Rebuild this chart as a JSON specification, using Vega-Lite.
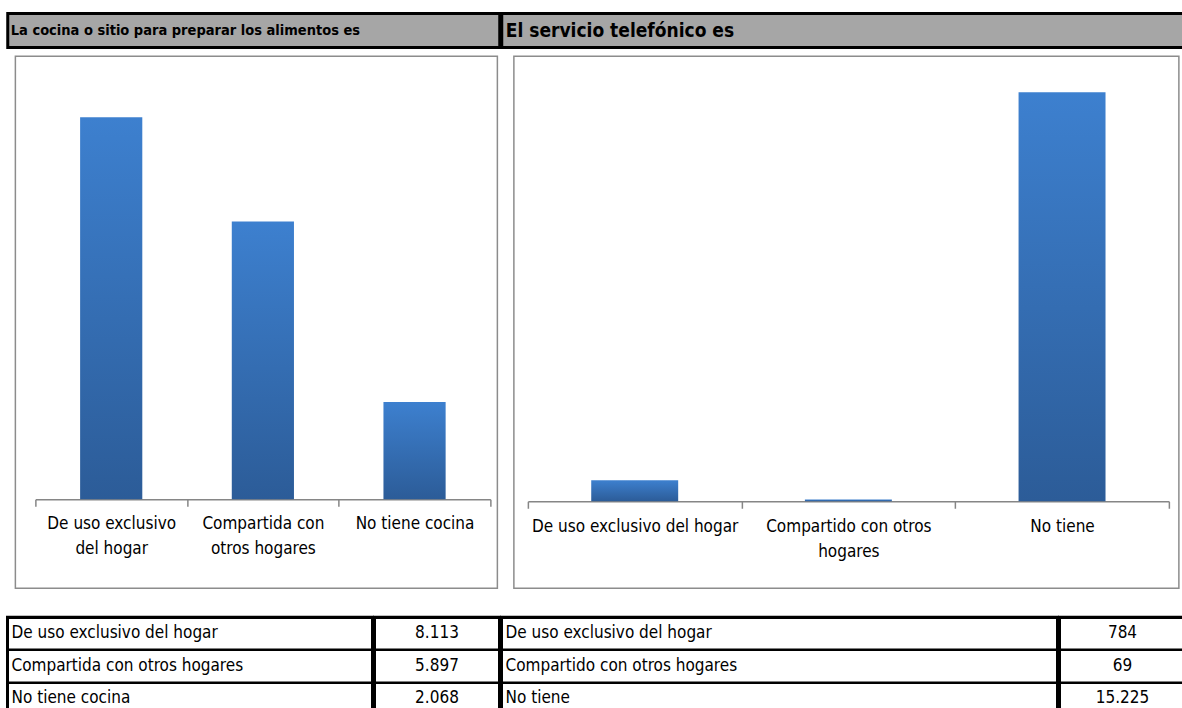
{
  "$schema": "https://vega.github.io/schema/vega-lite/v6.json",
  "padding": {"left": 5.5, "top": 11.5, "right": 0, "bottom": 0},
  "background": "white",
  "datasets": {
    "cocina": [
      {"cat": "De uso exclusivo del hogar", "orden": 1, "valor": 8113},
      {"cat": "Compartida con otros hogares", "orden": 2, "valor": 5897},
      {"cat": "No tiene cocina", "orden": 3, "valor": 2068}
    ],
    "telefono": [
      {"cat": "De uso exclusivo del hogar", "orden": 1, "valor": 784},
      {"cat": "Compartido con otros hogares", "orden": 2, "valor": 69},
      {"cat": "No tiene", "orden": 3, "valor": 15225}
    ],
    "titulos": [
      {"panel": "cocina", "titulo": "La cocina o sitio para preparar los alimentos es"},
      {"panel": "telefono", "titulo": "El servicio telefónico es"}
    ]
  },
  "config": {
    "view": {"stroke": null},
    "locale": {"number": {"decimal": ",", "thousands": ".", "grouping": [3], "currency": ["", ""]}},
    "text": {"font": "'Liberation Sans Narrow', 'Arial Narrow', 'DejaVu Sans Condensed', sans-serif", "fontSize": 17, "color": "black"},
    "axis": {"labelFont": "'Liberation Sans Narrow', 'Arial Narrow', 'DejaVu Sans Condensed', sans-serif"}
  },
  "spacing": 25.75,
  "vconcat": [
    {
      "spacing": 5.75,
      "center": true,
      "vconcat": [
        {
          "spacing": -3,
          "hconcat": [
            {
              "width": 492, "height": 34,
              "view": {"fill": "#a6a6a6", "stroke": "black", "strokeWidth": 3},
              "data": {"name": "titulos"},
              "transform": [{"filter": "datum.panel == 'cocina'"}],
              "mark": {"type": "text", "align": "left", "baseline": "middle", "fontWeight": "bold", "fontSize": 14.5, "x": 0, "dx": 3},
              "encoding": {"text": {"field": "titulo"}}
            },
            {
              "width": 684, "height": 34,
              "view": {"fill": "#a6a6a6", "stroke": "black", "strokeWidth": 3},
              "data": {"name": "titulos"},
              "transform": [{"filter": "datum.panel == 'telefono'"}],
              "mark": {"type": "text", "align": "left", "baseline": "middle", "fontWeight": "bold", "fontSize": 19, "x": 0, "dx": 4},
              "encoding": {"text": {"field": "titulo"}}
            }
          ]
        },
        {
          "spacing": 14.5,
          "hconcat": [
            {
              "width": 482, "height": 532,
              "view": {"stroke": "#8c8c8c", "strokeWidth": 1.5},
              "data": {"name": "cocina"},
              "mark": {"type": "bar", "width": {"band": 0.41},
                "color": {"gradient": "linear", "x1": 0, "y1": 0, "x2": 0, "y2": 1,
                  "stops": [{"offset": 0, "color": "#3d80cf"}, {"offset": 1, "color": "#2c5c98"}]}},
              "encoding": {
                "x": {"field": "cat", "type": "nominal", "sort": {"field": "orden"},
                  "scale": {"range": [20, 475], "paddingInner": 0, "paddingOuter": 0},
                  "axis": {"title": null, "orient": "bottom", "offset": -89, "labelAngle": 0,
                    "domainColor": "#868686", "domainWidth": 1.5, "tickColor": "#868686", "tickWidth": 1.5,
                    "tickSize": 7, "tickBand": "extent", "labelFontSize": 17, "labelColor": "black",
                    "labelPadding": 9, "labelBaseline": "top", "labelLineHeight": 25, "labelLimit": 0,
                    "labelOverlap": false,
                    "labelExpr": "datum.label == 'De uso exclusivo del hogar' ? ['De uso exclusivo', 'del hogar'] : datum.label == 'Compartida con otros hogares' ? ['Compartida con', 'otros hogares'] : datum.label"}},
                "y": {"field": "valor", "type": "quantitative",
                  "scale": {"domain": [-1890, 9408], "nice": false, "zero": false}, "axis": null}
              }
            },
            {
              "width": 665, "height": 532,
              "view": {"stroke": "#8c8c8c", "strokeWidth": 1.5},
              "data": {"name": "telefono"},
              "mark": {"type": "bar", "width": {"band": 0.407},
                "color": {"gradient": "linear", "x1": 0, "y1": 0, "x2": 0, "y2": 1,
                  "stops": [{"offset": 0, "color": "#3d80cf"}, {"offset": 1, "color": "#2c5c98"}]}},
              "encoding": {
                "x": {"field": "cat", "type": "nominal", "sort": {"field": "orden"},
                  "scale": {"range": [14, 655], "paddingInner": 0, "paddingOuter": 0},
                  "axis": {"title": null, "orient": "bottom", "offset": -87, "labelAngle": 0,
                    "domainColor": "#868686", "domainWidth": 1.5, "tickColor": "#868686", "tickWidth": 1.5,
                    "tickSize": 7, "tickBand": "extent", "labelFontSize": 17, "labelColor": "black",
                    "labelPadding": 10, "labelBaseline": "top", "labelLineHeight": 25, "labelLimit": 0,
                    "labelOverlap": false,
                    "labelExpr": "datum.label == 'Compartido con otros hogares' ? ['Compartido con otros', 'hogares'] : datum.label"}},
                "y": {"field": "valor", "type": "quantitative",
                  "scale": {"domain": [-3239, 16567], "nice": false, "zero": false}, "axis": null}
              }
            }
          ]
        }
      ]
    },
    {
      "spacing": -3,
      "hconcat": [
        {
          "width": 365, "height": 97,
          "view": {"stroke": "black", "strokeWidth": 3},
          "data": {"name": "cocina"},
          "mark": {"type": "text", "align": "left", "baseline": "middle", "x": 0, "dx": 4},
          "encoding": {
            "y": {"field": "cat", "type": "nominal", "sort": {"field": "orden"},
              "scale": {"paddingInner": 0, "paddingOuter": 0},
              "axis": {"title": null, "labels": false, "ticks": false, "domain": false, "grid": true,
                "tickBand": "extent", "gridColor": "black", "gridWidth": 2.5, "gridOpacity": 1}},
            "text": {"field": "cat"}
          }
        },
        {
          "width": 125, "height": 97,
          "view": {"stroke": "black", "strokeWidth": 3},
          "data": {"name": "cocina"},
          "mark": {"type": "text", "align": "center", "baseline": "middle"},
          "encoding": {
            "y": {"field": "cat", "type": "nominal", "sort": {"field": "orden"},
              "scale": {"paddingInner": 0, "paddingOuter": 0},
              "axis": {"title": null, "labels": false, "ticks": false, "domain": false, "grid": true,
                "tickBand": "extent", "gridColor": "black", "gridWidth": 2.5, "gridOpacity": 1}},
            "text": {"field": "valor", "type": "quantitative", "format": ",d"}
          }
        },
        {
          "width": 556, "height": 97,
          "view": {"stroke": "black", "strokeWidth": 3},
          "data": {"name": "telefono"},
          "mark": {"type": "text", "align": "left", "baseline": "middle", "x": 0, "dx": 4},
          "encoding": {
            "y": {"field": "cat", "type": "nominal", "sort": {"field": "orden"},
              "scale": {"paddingInner": 0, "paddingOuter": 0},
              "axis": {"title": null, "labels": false, "ticks": false, "domain": false, "grid": true,
                "tickBand": "extent", "gridColor": "black", "gridWidth": 2.5, "gridOpacity": 1}},
            "text": {"field": "cat"}
          }
        },
        {
          "width": 130, "height": 97,
          "view": {"stroke": "black", "strokeWidth": 3},
          "data": {"name": "telefono"},
          "mark": {"type": "text", "align": "center", "baseline": "middle", "dx": -2},
          "encoding": {
            "y": {"field": "cat", "type": "nominal", "sort": {"field": "orden"},
              "scale": {"paddingInner": 0, "paddingOuter": 0},
              "axis": {"title": null, "labels": false, "ticks": false, "domain": false, "grid": true,
                "tickBand": "extent", "gridColor": "black", "gridWidth": 2.5, "gridOpacity": 1}},
            "text": {"field": "valor", "type": "quantitative", "format": ",d"}
          }
        }
      ]
    }
  ]
}
